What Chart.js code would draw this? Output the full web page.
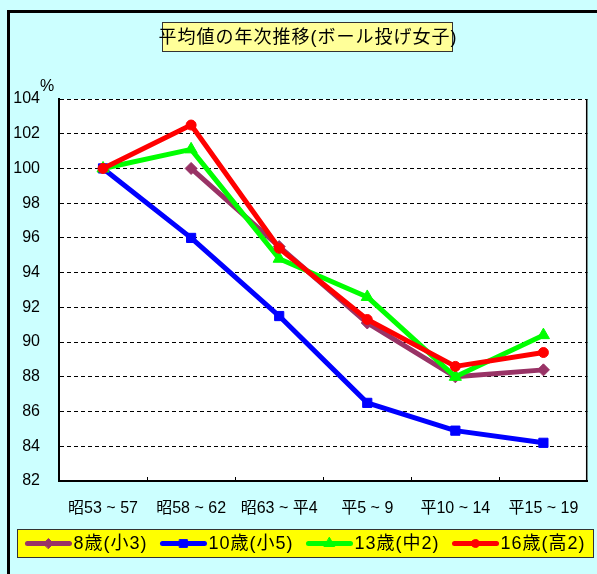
<!DOCTYPE html>
<html>
<head>
<meta charset="utf-8">
<script src="https://cdn.jsdelivr.net/npm/chart.js"></script>
<style>
  body { margin: 0; background: #fff; }
  canvas { display: block; }
</style>
</head>
<body>
<canvas id="grafico" width="597" height="574"></canvas>
<script>
const periodos = ['昭53 ~ 57', '昭58 ~ 62', '昭63 ~ 平4', '平5 ~ 9', '平10 ~ 14', '平15 ~ 19'];
const edad8 = [null, 100.0, 95.5, 91.1, 88.0, 88.4];
const edad10 = [100.0, 96.0, 91.5, 86.5, 84.9, 84.2];
const edad13 = [100.0, 101.1, 94.8, 92.6, 88.0, 90.4];
const edad16 = [100.0, 102.5, 95.4, 91.3, 88.6, 89.4];
const titulo = '平均値の年次推移(ボール投げ女子)';
const unidad = '%';

const fuente = '"Liberation Sans", "Noto Sans CJK JP", sans-serif';

function serie(label, data, color, estilo, radio, orden) {
    return {
        label: label,
        data: data,
        borderColor: color,
        backgroundColor: color,
        borderWidth: 5,
        borderJoinStyle: 'round',
        borderCapStyle: 'round',
        pointStyle: estilo,
        pointRadius: radio,
        pointBorderWidth: 1,
        pointBackgroundColor: color,
        pointBorderColor: color,
        tension: 0,
        order: orden
    };
}

// fondo, marco, titulo, leyenda
const decoracion = {
    id: 'decoracion',
    beforeDraw(chart) {
        const { ctx, chartArea: a, width, height } = chart;
        ctx.save();
        ctx.fillStyle = '#CCFFFF';
        ctx.fillRect(0, 0, width, height);
        ctx.fillStyle = '#FFFFFF';
        ctx.fillRect(a.left, a.top, a.right - a.left, a.bottom - a.top);
        ctx.strokeStyle = '#000';
        ctx.lineWidth = 3;
        ctx.beginPath();
        ctx.moveTo(8.5, height);
        ctx.lineTo(8.5, 11.5);
        ctx.lineTo(width, 11.5);
        ctx.stroke();
        ctx.restore();
    },
    afterDraw(chart) {
        const { ctx, chartArea: a, scales } = chart;
        ctx.save();

        // borde derecho y marcas del eje X
        ctx.strokeStyle = '#000';
        ctx.lineWidth = 1.5;
        ctx.beginPath();
        ctx.moveTo(a.right - 0.75, a.top);
        ctx.lineTo(a.right - 0.75, a.bottom);
        ctx.stroke();
        ctx.lineWidth = 1;
        for (let i = 1; i < periodos.length; i++) {
            const x = Math.round((scales.x.getPixelForValue(i - 1) + scales.x.getPixelForValue(i)) / 2) + 0.5;
            ctx.beginPath();
            ctx.moveTo(x, a.bottom);
            ctx.lineTo(x, a.bottom - 4);
            ctx.stroke();
        }

        // titulo
        ctx.fillStyle = '#FFFF99';
        ctx.fillRect(162, 22, 291, 30);
        ctx.strokeStyle = '#333';
        ctx.lineWidth = 1;
        ctx.strokeRect(162.5, 22.5, 290, 29);
        ctx.fillStyle = '#000';
        ctx.font = '18px ' + fuente;
        ctx.letterSpacing = '1px';
        ctx.textAlign = 'center';
        ctx.textBaseline = 'middle';
        ctx.fillText(titulo, 308, 38);

        // unidad
        ctx.letterSpacing = '0px';
        ctx.font = '16px ' + fuente;
        ctx.fillText(unidad, 47, 87);

        // leyenda
        ctx.fillStyle = '#FFFF00';
        ctx.fillRect(17, 529, 577, 29);
        ctx.strokeStyle = '#333';
        ctx.strokeRect(17.5, 529.5, 576, 28);
        ctx.font = '18px ' + fuente;
        ctx.letterSpacing = '1px';
        ctx.textAlign = 'left';
        const datasets = chart.data.datasets;
        const anchos = datasets.map(ds => 48 + ctx.measureText(ds.label).width);
        const sep = 13;
        const total = anchos.reduce((s, w) => s + w, 0) + sep * (datasets.length - 1);
        let x = (17 + 594) / 2 - total / 2;
        const cy = 543.5;
        datasets.forEach((ds, i) => {
            ctx.strokeStyle = ds.borderColor;
            ctx.fillStyle = ds.borderColor;
            ctx.lineWidth = 5;
            ctx.lineCap = 'round';
            ctx.beginPath();
            ctx.moveTo(x + 2, cy);
            ctx.lineTo(x + 44, cy);
            ctx.stroke();
            ctx.lineWidth = 1;
            Chart.helpers.drawPoint(ctx, { pointStyle: ds.pointStyle, radius: ds.pointRadius - 1, borderWidth: 1 }, x + 23, cy);
            ctx.fillStyle = '#000';
            ctx.fillText(ds.label, x + 48, cy + 1);
            x += anchos[i] + sep;
        });
        ctx.restore();
    }
};

const ctx = document.getElementById('grafico').getContext('2d');
const grafico = new Chart(ctx, {
    type: 'line',
    data: {
        labels: periodos,
        datasets: [
            serie('8歳(小3)', edad8, '#993366', 'rectRot', 6, 3),
            serie('10歳(小5)', edad10, '#0000FF', 'rect', 6.5, 2),
            serie('13歳(中2)', edad13, '#00FF00', 'triangle', 7, 1),
            serie('16歳(高2)', edad16, '#FF0000', 'circle', 5, 0)
        ]
    },
    options: {
        responsive: false,
        animation: false,
        layout: {
            padding: { top: 99, right: 3, bottom: 48, left: 0 }
        },
        scales: {
            x: {
                offset: true,
                grid: { display: false, drawTicks: false },
                border: { display: true, color: '#000', width: 2 },
                ticks: {
                    color: '#000',
                    padding: 18,
                    maxRotation: 0,
                    autoSkip: false,
                    font: { family: fuente, size: 16 }
                },
                afterFit(scale) { scale.height = 45; }
            },
            y: {
                min: 82,
                max: 104,
                ticks: {
                    stepSize: 2,
                    color: '#000',
                    padding: 19,
                    font: { family: fuente, size: 16 }
                },
                grid: {
                    color: '#000',
                    lineWidth: 1,
                    drawTicks: false
                },
                border: { display: true, color: '#000', width: 2, dash: [4, 3] },
                afterFit(scale) { scale.width = 59; }
            }
        },
        plugins: {
            legend: { display: false },
            title: { display: false },
            tooltip: { enabled: false }
        }
    },
    plugins: [decoracion]
});
</script>
</body>
</html>
